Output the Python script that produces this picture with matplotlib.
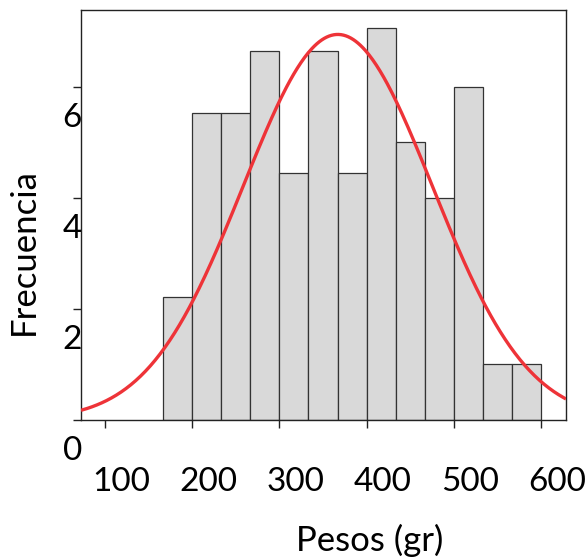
import numpy as np
import matplotlib
matplotlib.use("Agg")
import matplotlib.pyplot as plt
from matplotlib.transforms import ScaledTranslation

# histogram bins (gr) and bar heights as drawn
bin_edges = [166.67, 200.0, 233.33, 266.67, 300.0, 333.33, 366.67,
             400.0, 433.33, 466.67, 500.0, 533.33, 566.67, 600.0]
heights = [2.22, 5.53, 5.53, 6.64, 4.44, 6.64, 4.44, 7.05,
           5.0, 4.0, 6.0, 1.0, 1.0]

# fitted normal curve (peak height in y units)
curve_mean = 367.0
curve_sd = 108.5
curve_peak = 6.94

x_ticks = [100, 200, 300, 400, 500, 600]
y_ticks = [0, 2, 4, 6]

FONT = ["Lato", "DejaVu Sans"]
plt.rcParams["font.family"] = FONT

W, H = 587, 558
fig = plt.figure(figsize=(W / 100, H / 100), dpi=100)
ax = fig.add_axes([81 / W, 1 - 420 / H, (566 - 81) / W, (420 - 10) / H])

edges = np.array(bin_edges)
ax.bar(edges[:-1], heights, width=np.diff(edges), align="edge",
       color="#d9d9d9", edgecolor="#333333", linewidth=0.9, zorder=2)

xmin, xmax = 72.5, 628.7
xs = np.linspace(xmin, xmax, 400)
ys = curve_peak * np.exp(-0.5 * ((xs - curve_mean) / curve_sd) ** 2)
ax.plot(xs, ys, color="#ee3338", lw=2.4, zorder=3, solid_capstyle="butt")

ax.set_xlim(xmin, xmax)
ax.set_ylim(0, 7.38)
ax.set_xticks(x_ticks)
ax.set_yticks(y_ticks)
ax.set_xticklabels([str(v) for v in x_ticks])
ax.set_yticklabels([str(v) for v in y_ticks])

for s in ax.spines.values():
    s.set_color("#222222")
    s.set_linewidth(1.0)

ax.tick_params(axis="both", direction="out", length=5.8, width=1.0,
               color="#222222", labelsize=24, pad=0)

# the tick labels sit offset from their ticks in the original
for lab in ax.get_xticklabels():
    lab.set_transform(lab.get_transform() +
                      ScaledTranslation(0.16, -0.39, fig.dpi_scale_trans))
for lab in ax.get_yticklabels():
    lab.set_transform(lab.get_transform() +
                      ScaledTranslation(0.09, -0.28, fig.dpi_scale_trans))

fig.text(370 / W, 1 - 540 / H, "Pesos (gr)", fontsize=25,
         ha="center", va="center")
fig.text(24 / W, 1 - 252 / H, "Frecuencia", fontsize=25, rotation=90,
         ha="center", va="center")

fig.savefig("out.png", dpi=100)
